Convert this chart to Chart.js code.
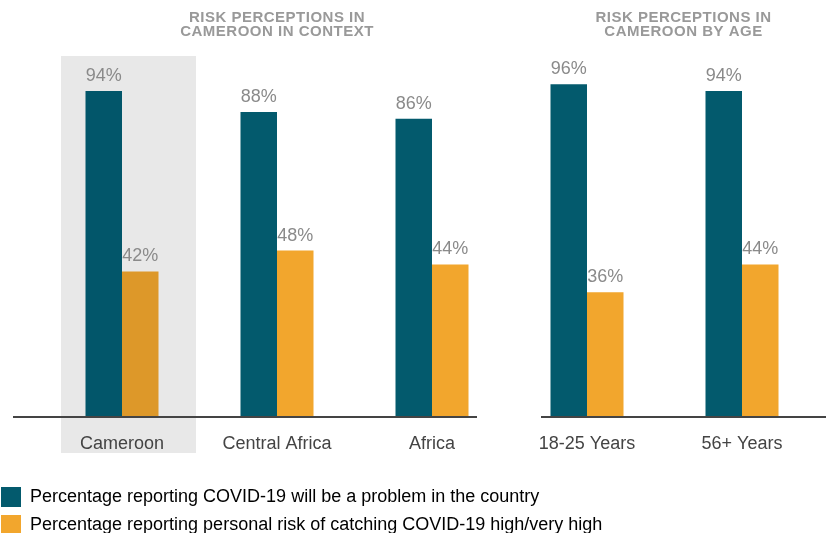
<!DOCTYPE html>
<html>
<head>
<meta charset="utf-8">
<script src="https://cdn.jsdelivr.net/npm/chart.js@4.4.1/dist/chart.umd.min.js"></script>
<style>
  html, body { margin: 0; padding: 0; background: #fff; overflow: hidden; }
  #wrap { position: absolute; left: -7px; top: 0; width: 836px; height: 548px; }
</style>
</head>
<body>
<div id="wrap"><canvas id="chart"></canvas></div>
<script>
// Chart data
const categories = ['Cameroon', 'Central Africa', 'Africa', '18-25 Years', '56+ Years'];
const problemValues = [94, 88, 86, 96, 94];
const personalRiskValues = [42, 48, 44, 36, 44];
const seriesNames = [
    'Percentage reporting COVID-19 will be a problem in the country',
    'Percentage reporting personal risk of catching COVID-19 high/very high'
];
const panelTitles = [
    ['RISK PERCEPTIONS IN', 'CAMEROON IN CONTEXT'],
    ['RISK PERCEPTIONS IN', 'CAMEROON BY AGE']
];

// Colours
const TEAL = '#035a6d';
const TEAL_DARK = '#02566a';
const ORANGE = '#f2a62d';
const ORANGE_DARK = '#dd9829';
const FONT = '"Liberation Sans", Arial, sans-serif';

// Gray box behind Cameroon, panel axis lines, value labels and titles
const decorations = {
    id: 'decorations',
    beforeDraw(chart) {
        const ctx = chart.ctx;
        const cx = chart.scales.x.getPixelForValue(0);
        ctx.save();
        ctx.fillStyle = '#e8e8e8';
        ctx.fillRect(cx - 61, 56, 135, 397);
        ctx.restore();
    },
    afterDatasetsDraw(chart) {
        const ctx = chart.ctx;
        const x = chart.scales.x;
        const bottom = chart.chartArea.bottom;
        const p = i => x.getPixelForValue(i);
        ctx.save();
        ctx.fillStyle = '#444';
        ctx.fillRect(p(0) - 109, bottom - 1, p(2) + 45 - (p(0) - 109), 2);
        ctx.fillRect(p(3) - 46, bottom - 1, p(4) + 84 - (p(3) - 46), 2);

        // value labels
        ctx.fillStyle = '#8a8a8a';
        ctx.font = '18px ' + FONT;
        ctx.textAlign = 'center';
        ctx.textBaseline = 'alphabetic';
        chart.data.datasets.forEach((ds, di) => {
            chart.getDatasetMeta(di).data.forEach((bar, i) => {
                ctx.fillText(ds.data[i] + '%', bar.x, bar.y - 10);
            });
        });

        // panel titles
        ctx.fillStyle = '#999';
        ctx.font = 'bold 15px ' + FONT;
        ctx.letterSpacing = '0.5px';
        const centers = [(p(0) + p(2)) / 2, (p(3) - 46 + p(4) + 84) / 2];
        panelTitles.forEach((lines, k) => {
            lines.forEach((line, j) => {
                ctx.fillText(line, centers[k], 21.5 + j * 14.5);
            });
        });
        ctx.restore();
    }
};

new Chart(document.getElementById('chart'), {
    type: 'bar',
    data: {
        labels: categories,
        datasets: [{
            label: seriesNames[0],
            data: problemValues,
            backgroundColor: categories.map((c, i) => i === 0 ? TEAL_DARK : TEAL),
            borderWidth: 0
        }, {
            label: seriesNames[1],
            data: personalRiskValues,
            backgroundColor: categories.map((c, i) => i === 0 ? ORANGE_DARK : ORANGE),
            borderWidth: 0
        }]
    },
    options: {
        responsive: true,
        maintainAspectRatio: false,
        animation: false,
        events: [],
        layout: {
            padding: { left: 0, right: 9.5, top: 70.3, bottom: 3 }
        },
        datasets: {
            bar: { categoryPercentage: 0.471, barPercentage: 1 }
        },
        scales: {
            x: {
                grid: { display: false, drawTicks: false },
                border: { display: false },
                ticks: {
                    color: '#444',
                    font: { family: FONT, size: 18 },
                    padding: 16,
                    maxRotation: 0,
                    autoSkip: false
                },
                afterFit(scale) { scale.height = 62; }
            },
            y: {
                min: 0,
                max: 100,
                grid: { display: false, drawTicks: false },
                border: { display: false },
                ticks: { display: false },
                afterFit(scale) { scale.width = 51.5; }
            }
        },
        plugins: {
            tooltip: { enabled: false },
            legend: {
                position: 'bottom',
                align: 'start',
                labels: {
                    boxWidth: 20,
                    boxHeight: 20,
                    padding: 8,
                    color: '#333',
                    font: { family: FONT, size: 18 },
                    generateLabels(chart) {
                        return chart.data.datasets.map((ds, i) => ({
                            text: ds.label,
                            fillStyle: i === 0 ? TEAL : ORANGE,
                            strokeStyle: 'transparent',
                            lineWidth: 0,
                            hidden: false,
                            datasetIndex: i
                        }));
                    }
                }
            }
        }
    },
    plugins: [decorations]
});
</script>
</body>
</html>
